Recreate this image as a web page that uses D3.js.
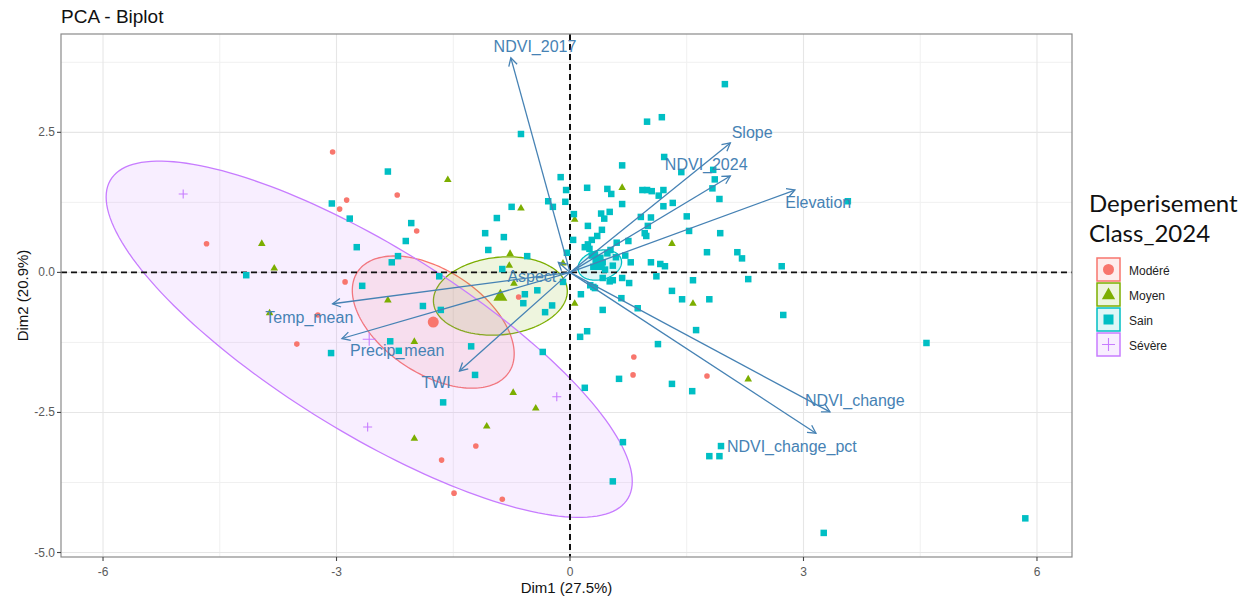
<!DOCTYPE html>
<html>
<head>
<meta charset="utf-8">
<script src="https://cdn.jsdelivr.net/npm/d3@7"></script>
<style>
  html, body { margin: 0; padding: 0; background: #ffffff; }
  svg { display: block; }
</style>
</head>
<body>
<svg id="chart" width="1253" height="603"></svg>
<script>
// ---------------- DATA ----------------
const chartTitle = "PCA - Biplot";
const xAxisTitle = "Dim1 (27.5%)";
const yAxisTitle = "Dim2 (20.9%)";
const legendTitle = ["Deperisement", "Class_2024"];

const classNames = ["Modéré", "Moyen", "Sain", "Sévère"];
const classColors = ["#F8766D", "#7CAE00", "#00BFC4", "#C77CFF"];
const classShapes = ["circle", "triangle", "square", "plus"];

const xTicks = [-6, -3, 0, 3, 6];
const yTicks = [2.5, 0, -2.5, -5];
const xMinorTicks = [-4.5, -1.5, 1.5, 4.5];
const yMinorTicks = [3.75, 1.25, -1.25, -3.75];

// individuals (Dim1, Dim2)
const moderePts = [
  [-3.05, 2.15], [-2.22, 1.38], [-2.87, 1.29], [-2.96, 1.13], [-1.97, 0.74], [-4.67, 0.51],
  [-2.89, -0.17], [-3.24, -0.76], [-3.51, -1.28], [-0.66, -0.44], [-1.21, -3.10], [-1.65, -3.35],
  [-1.49, -3.94], [-0.87, -4.05], [0.82, -1.51], [0.81, -1.83], [1.76, -1.85]
];
const moyenPts = [
  [-3.96, 0.52], [-3.80, 0.08], [-3.86, -0.72], [-2.34, -0.49], [-2.00, -1.23], [-2.00, -2.96],
  [-1.57, 1.66], [-0.63, 1.15], [-0.77, 0.34], [-0.78, 0.13], [-0.72, -0.19], [0.06, 0.95],
  [0.67, 1.52], [1.31, 0.52], [-0.09, 0.17], [1.58, -0.55], [0.06, -0.55], [2.29, -1.90],
  [-0.73, -2.14], [-0.44, -2.42], [-1.07, -2.74]
];
const sainPts = [
  [-2.34, 1.80], [-3.06, 1.23], [-2.83, 0.96], [-2.04, 0.88], [-2.11, 0.56], [-2.74, 0.45],
  [-2.21, 0.29], [-2.29, 0.18], [-4.16, -0.05], [-2.67, -0.24], [-3.07, -1.44], [-2.31, -1.23],
  [-2.20, -1.40], [-0.63, 2.47], [-1.68, -0.07], [-1.89, -0.60], [-1.66, -0.67], [-1.09, 0.70],
  [-0.94, 0.97], [-0.75, 1.17], [-0.85, 0.63], [-1.05, 0.40], [-0.55, 0.29], [-0.87, 0.06],
  [-0.12, 1.70], [-0.05, 1.47], [-0.28, 1.27], [-0.06, 1.26], [-0.22, 1.17], [-0.04, 0.35],
  [-0.58, -0.39], [-0.42, -0.32], [-0.60, -0.55], [-0.23, -0.59], [-0.32, -0.71], [-0.09, -0.17],
  [-1.27, -1.32], [-1.22, -1.83], [-1.63, -2.32], [-0.35, -1.42],
  [1.99, 3.36], [0.99, 2.69], [1.18, 2.77], [1.21, 2.06], [0.67, 1.91], [1.43, 1.79],
  [1.84, 1.83], [1.86, 1.66], [1.83, 1.50], [1.92, 1.31], [0.22, 1.51], [0.48, 1.49],
  [0.53, 1.40], [0.93, 1.47], [0.99, 1.47], [1.05, 1.45], [1.20, 1.47], [1.14, 1.37],
  [0.67, 1.22], [1.20, 1.18], [1.32, 1.24], [1.50, 1.00], [0.40, 1.05], [0.44, 0.96],
  [0.51, 1.08], [0.05, 1.04], [0.04, 0.58], [0.23, 0.83], [0.41, 0.76], [0.35, 0.65],
  [0.28, 0.58], [0.23, 0.50], [0.19, 0.45], [0.60, 0.53], [0.75, 0.56], [0.91, 0.99],
  [1.04, 0.98], [1.00, 0.83], [0.98, 0.65], [1.53, 0.74], [1.93, 0.70], [1.76, 0.36],
  [2.15, 0.36], [2.21, 0.25], [2.72, 0.11], [1.04, 0.18], [1.16, 0.15], [1.22, 0.11],
  [1.11, -0.07], [1.58, -0.14], [2.29, -0.12], [0.67, -0.10], [0.76, -0.19], [3.57, 1.27],
  [0.48, 0.34], [0.42, 0.18], [0.36, 0.16], [0.39, 0.26], [0.59, 0.27], [0.32, 0.32],
  [0.25, 0.42], [0.30, 0.10], [0.45, 0.05], [0.55, 0.12], [0.71, 0.30], [0.78, 0.18],
  [0.96, 0.70], [0.33, 0.22], [0.52, 0.40], [0.28, 0.30],
  [0.42, -0.10], [0.55, -0.14], [0.51, -0.16], [0.14, -0.39], [0.30, -0.26], [0.26, -0.23],
  [0.32, -0.28], [1.31, -0.33], [1.44, -0.48], [1.79, -0.48], [0.66, -0.46], [0.87, -0.64],
  [0.42, -0.67], [2.74, -0.76], [1.62, -1.03], [0.22, -1.05], [0.13, -1.15], [1.13, -1.28],
  [0.63, -1.90], [0.19, -2.06], [1.31, -1.99], [1.57, -2.12], [0.68, -3.03], [1.94, -3.10],
  [1.79, -3.28], [1.92, -3.28], [0.55, -3.73], [4.58, -1.26], [5.85, -4.39], [3.26, -4.65]
];
const severePts = [[-4.97, 1.40], [-2.60, -2.76], [-0.17, -2.22]];
const classPoints = [moderePts, moyenPts, sainPts, severePts];

// confidence ellipses: spread along Dim1, Dim2 and correlation
const ellipseSx = [1.04, 0.86, 0.28, 3.38];
const ellipseSy = [1.18, 0.70, 0.27, 3.18];
const ellipseR = [-0.48, 0.12, 0.2, -0.798];

// variables (arrows)
const varNames = ["NDVI_2017", "Slope", "NDVI_2024", "Elevation", "NDVI_change",
                  "NDVI_change_pct", "Temp_mean", "Precip_mean", "TWI", "Aspect"];
const varDim1 = [-0.76, 2.06, 2.06, 2.89, 3.34, 3.16, -3.05, -2.93, -1.42, -0.15];
const varDim2 = [3.83, 2.31, 1.72, 1.47, -2.49, -2.87, -0.56, -1.18, -1.76, 0.18];
const varLabelDim1 = [-0.45, 2.34, 1.75, 3.19, 3.66, 2.85, -3.35, -2.22, -1.72, -0.49];
const varLabelDim2 = [4.04, 2.50, 1.93, 1.24, -2.28, -3.10, -0.80, -1.39, -1.96, -0.07];

// ---------------- DRAW ----------------
const svg = d3.select("#chart");
const panel = { left: 61, top: 34, right: 1072, bottom: 557 };
const x = d3.scaleLinear().domain([-6.54, 6.45]).range([panel.left, panel.right]);
const y = d3.scaleLinear().domain([-5.08, 4.255]).range([panel.bottom, panel.top]);
const FONT = "'Liberation Sans', Arial, sans-serif";
const arrowColor = "#4682B4";

svg.append("defs").append("clipPath").attr("id", "clip")
  .append("rect").attr("x", panel.left).attr("y", panel.top)
  .attr("width", panel.right - panel.left).attr("height", panel.bottom - panel.top);

// grid
const grid = svg.append("g");
grid.selectAll(".vminor").data(xMinorTicks).enter().append("line")
  .attr("x1", d => x(d)).attr("x2", d => x(d)).attr("y1", panel.top).attr("y2", panel.bottom)
  .attr("stroke", "#f0f0f0").attr("stroke-width", 1);
grid.selectAll(".hminor").data(yMinorTicks).enter().append("line")
  .attr("y1", d => y(d)).attr("y2", d => y(d)).attr("x1", panel.left).attr("x2", panel.right)
  .attr("stroke", "#f0f0f0").attr("stroke-width", 1);
grid.selectAll(".vmajor").data(xTicks).enter().append("line")
  .attr("x1", d => x(d)).attr("x2", d => x(d)).attr("y1", panel.top).attr("y2", panel.bottom)
  .attr("stroke", "#e6e6e6").attr("stroke-width", 1.1);
grid.selectAll(".hmajor").data(yTicks).enter().append("line")
  .attr("y1", d => y(d)).attr("y2", d => y(d)).attr("x1", panel.left).attr("x2", panel.right)
  .attr("stroke", "#e6e6e6").attr("stroke-width", 1.1);

const plot = svg.append("g").attr("clip-path", "url(#clip)");

// group means
const means = classPoints.map(pts => [d3.mean(pts, p => p[0]), d3.mean(pts, p => p[1])]);

// ellipses
const ts = d3.range(0, 2 * Math.PI + 0.001, Math.PI / 90);
classNames.forEach((c, i) => {
  const [cx, cy] = means[i];
  const sx = ellipseSx[i], sy = ellipseSy[i], r = ellipseR[i];
  const pts = ts.map(t => [x(cx + sx * Math.cos(t)),
                           y(cy + sy * (r * Math.cos(t) + Math.sqrt(1 - r * r) * Math.sin(t)))]);
  plot.append("path").attr("d", d3.line()(pts) + "Z")
    .attr("fill", classColors[i]).attr("fill-opacity", 0.13)
    .attr("stroke", classColors[i]).attr("stroke-width", 1.3);
});

// zero lines
plot.append("line").attr("x1", panel.left).attr("x2", panel.right).attr("y1", y(0)).attr("y2", y(0))
  .attr("stroke", "#111").attr("stroke-width", 1.7).attr("stroke-dasharray", "6,4");
plot.append("line").attr("x1", x(0)).attr("x2", x(0)).attr("y1", panel.top).attr("y2", panel.bottom)
  .attr("stroke", "#111").attr("stroke-width", 2).attr("stroke-dasharray", "6,4");

// symbol drawing
function drawSymbol(g, shape, cx, cy, size, color) {
  if (shape === "circle") {
    g.append("circle").attr("cx", cx).attr("cy", cy).attr("r", size / 2).attr("fill", color);
  } else if (shape === "square") {
    g.append("rect").attr("x", cx - size / 2).attr("y", cy - size / 2)
      .attr("width", size).attr("height", size).attr("fill", color);
  } else if (shape === "triangle") {
    const h = size * 0.87;
    g.append("path").attr("d", `M${cx},${cy - h * 0.6}L${cx + size / 2},${cy + h * 0.4}L${cx - size / 2},${cy + h * 0.4}Z`)
      .attr("fill", color);
  } else if (shape === "plus") {
    g.append("path").attr("d", `M${cx - size / 2},${cy}H${cx + size / 2}M${cx},${cy - size / 2}V${cy + size / 2}`)
      .attr("stroke", color).attr("stroke-width", 1.1).attr("fill", "none");
  }
}
const ptSize = { circle: 5.6, square: 6.5, triangle: 7.6, plus: 9 };
const meanSize = { circle: 11, square: 10, triangle: 14, plus: 13 };

const ptsG = plot.append("g");
classNames.forEach((c, i) => {
  classPoints[i].forEach(p => drawSymbol(ptsG, classShapes[i], x(p[0]), y(p[1]), ptSize[classShapes[i]], classColors[i]));
});
classNames.forEach((c, i) => {
  drawSymbol(ptsG, classShapes[i], x(means[i][0]), y(means[i][1]), meanSize[classShapes[i]], classColors[i]);
});

// arrows
const arrG = plot.append("g");
varNames.forEach((v, i) => {
  const x0 = x(0), y0 = y(0), x1 = x(varDim1[i]), y1 = y(varDim2[i]);
  const ang = Math.atan2(y1 - y0, x1 - x0);
  const L = 9, a = 0.5;
  arrG.append("line").attr("x1", x0).attr("y1", y0).attr("x2", x1).attr("y2", y1)
    .attr("stroke", arrowColor).attr("stroke-width", 1.3);
  arrG.append("path")
    .attr("d", `M${x1 - L * Math.cos(ang - a)},${y1 - L * Math.sin(ang - a)}L${x1},${y1}L${x1 - L * Math.cos(ang + a)},${y1 - L * Math.sin(ang + a)}`)
    .attr("stroke", arrowColor).attr("stroke-width", 1.3).attr("fill", "none");
});
arrG.selectAll(".vlab").data(varNames).enter().append("text")
  .attr("x", (d, i) => x(varLabelDim1[i])).attr("y", (d, i) => y(varLabelDim2[i]))
  .attr("text-anchor", "middle").attr("dominant-baseline", "central")
  .attr("font-family", FONT).attr("font-size", 16).attr("fill", arrowColor)
  .text(d => d);

// panel border
svg.append("rect").attr("x", panel.left).attr("y", panel.top)
  .attr("width", panel.right - panel.left).attr("height", panel.bottom - panel.top)
  .attr("fill", "none").attr("stroke", "#8a8a8a").attr("stroke-width", 1.2);

// axes ticks + labels
const xAxis = svg.append("g");
xTicks.forEach(t => {
  xAxis.append("line").attr("x1", x(t)).attr("x2", x(t)).attr("y1", panel.bottom).attr("y2", panel.bottom + 4)
    .attr("stroke", "#444").attr("stroke-width", 1.1);
  xAxis.append("text").attr("x", x(t)).attr("y", panel.bottom + 15).attr("text-anchor", "middle")
    .attr("dominant-baseline", "central").attr("font-family", FONT).attr("font-size", 12)
    .attr("fill", "#5a5a5a").text(String(t));
});
const yAxis = svg.append("g");
yTicks.forEach(t => {
  yAxis.append("line").attr("x1", panel.left - 4).attr("x2", panel.left).attr("y1", y(t)).attr("y2", y(t))
    .attr("stroke", "#444").attr("stroke-width", 1.1);
  yAxis.append("text").attr("x", panel.left - 6).attr("y", y(t)).attr("text-anchor", "end")
    .attr("dominant-baseline", "central").attr("font-family", FONT).attr("font-size", 12)
    .attr("fill", "#5a5a5a").text(t.toFixed(1));
});

svg.append("text").attr("x", (panel.left + panel.right) / 2).attr("y", 587)
  .attr("text-anchor", "middle").attr("dominant-baseline", "central")
  .attr("font-family", FONT).attr("font-size", 15).attr("fill", "#111").text(xAxisTitle);
svg.append("text").attr("transform", `translate(22,${(panel.top + panel.bottom) / 2}) rotate(-90)`)
  .attr("text-anchor", "middle").attr("dominant-baseline", "central")
  .attr("font-family", FONT).attr("font-size", 15).attr("fill", "#111").text(yAxisTitle);

svg.append("text").attr("x", 61).attr("y", 23).attr("font-family", FONT).attr("font-size", 19)
  .attr("fill", "#111").text(chartTitle);

// legend
const lg = svg.append("g");
legendTitle.forEach((t, i) => {
  lg.append("text").attr("x", 1089).attr("y", 212 + i * 30).attr("font-family", "Lato, 'Open Sans', sans-serif")
    .attr("font-size", 24).attr("fill", "#111").text(t);
});
classNames.forEach((c, i) => {
  const top = 258 + i * 25;
  lg.append("rect").attr("x", 1097).attr("y", top).attr("width", 23).attr("height", 23)
    .attr("fill", classColors[i]).attr("fill-opacity", 0.13)
    .attr("stroke", classColors[i]).attr("stroke-width", 1.5);
  drawSymbol(lg, classShapes[i], 1108.5, top + 11.5, meanSize[classShapes[i]] * (classShapes[i] === "triangle" ? 0.95 : 1), classColors[i]);
  lg.append("text").attr("x", 1129).attr("y", top + 12.5).attr("dominant-baseline", "central")
    .attr("font-family", FONT).attr("font-size", 12).attr("fill", "#222").text(c);
});
</script>
</body>
</html>
